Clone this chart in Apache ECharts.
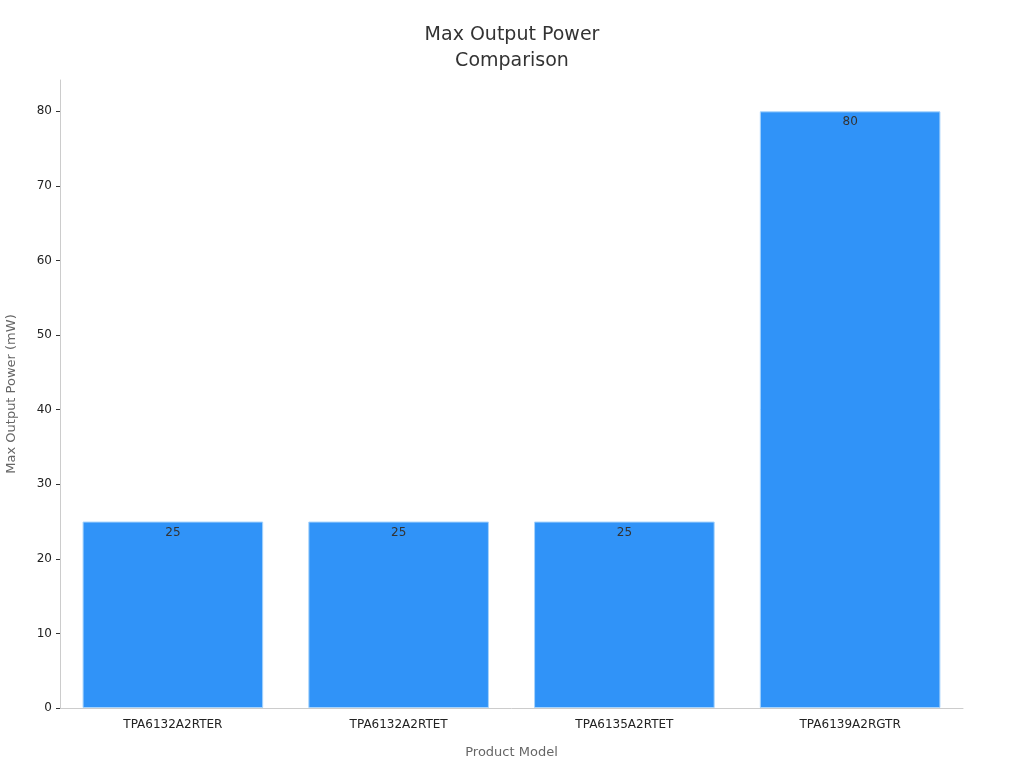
<!DOCTYPE html>
<html>
<head>
    <meta charset="UTF-8">
    <title>Max Output Power Comparison</title>
    <script src="https://cdn.jsdelivr.net/npm/echarts@6/dist/echarts.min.js"></script>
    <style>
        html, body { margin: 0; padding: 0; background: #fff; }
        #main { width: 1024px; height: 768px; }
    </style>
</head>
<body>
<div id="main"></div>
<script type="text/javascript">
    // chart data
    var models = ['TPA6132A2RTER', 'TPA6132A2RTET', 'TPA6135A2RTET', 'TPA6139A2RGTR'];
    var maxPower = [25, 25, 25, 80];
    var yTicks = [0, 10, 20, 30, 40, 50, 60, 70, 80];

    var font = 'DejaVu Sans';
    var myChart = echarts.init(document.getElementById('main'));

    var option = {
        animation: false,
        title: {
            text: 'Max Output Power\nComparison',
            left: 'center',
            top: 17,
            textStyle: {
                fontFamily: font,
                fontSize: 19,
                fontWeight: 'normal',
                color: '#333',
                lineHeight: 26
            }
        },
        grid: {
            left: 60,
            right: 61,
            top: 80,
            bottom: 60,
            containLabel: false,
            outerBoundsMode: 'none'
        },
        xAxis: {
            type: 'category',
            data: models,
            name: 'Product Model',
            nameLocation: 'middle',
            nameGap: 38,
            nameTextStyle: { fontFamily: font, fontSize: 13, color: '#666' },
            axisLine: { lineStyle: { color: '#ccc' } },
            axisTick: { alignWithLabel: true, length: 5, lineStyle: { color: '#999' } },
            axisLabel: { fontFamily: font, fontSize: 12, color: '#222', margin: 11 }
        },
        yAxis: {
            type: 'value',
            min: 0,
            max: 84.2,
            name: 'Max Output Power (mW)',
            nameLocation: 'middle',
            nameGap: 42,
            nameTextStyle: { fontFamily: font, fontSize: 13, color: '#666' },
            axisLine: { show: true, lineStyle: { color: '#ccc' } },
            axisTick: { show: true, length: 4, customValues: yTicks, lineStyle: { color: '#333' } },
            splitLine: { show: false },
            axisLabel: {
                fontFamily: font,
                fontSize: 12,
                color: '#222',
                margin: 8,
                customValues: yTicks
            }
        },
        series: [
            {
                name: 'Max Output Power',
                type: 'bar',
                data: maxPower,
                barCategoryGap: '20%',
                itemStyle: {
                    color: '#3093f8',
                    borderColor: '#a8d4fc',
                    borderWidth: 1
                },
                label: {
                    show: true,
                    position: 'insideTop',
                    distance: 5,
                    fontFamily: font,
                    fontSize: 12,
                    color: '#333'
                }
            }
        ]
    };

    myChart.setOption(option);
</script>
</body>
</html>
